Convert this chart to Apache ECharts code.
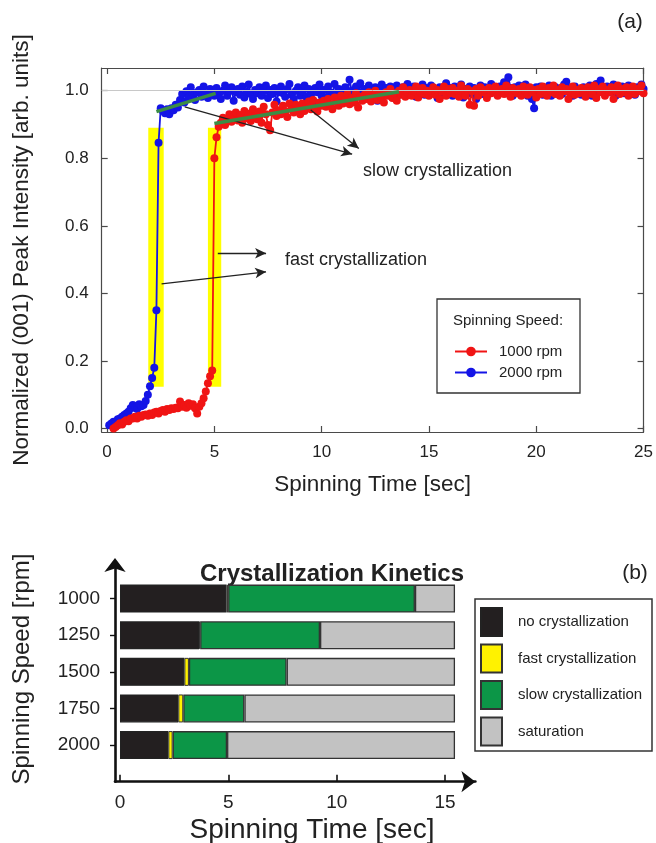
<!DOCTYPE html>
<html><head><meta charset="utf-8">
<script src="https://cdn.jsdelivr.net/npm/echarts@6/dist/echarts.min.js"></script>
<style>html,body{margin:0;padding:0;background:#fff}#c{width:656px;height:843px}</style>
</head><body><div id="c"></div>
<script>
// ---------- Panel (a) data ----------
const time = [
0.1,0.2,0.3,0.4,0.5,0.6,0.7,0.8,0.9,1.0,
1.1,1.2,1.3,1.4,1.5,1.6,1.7,1.8,1.9,2.0,
2.1,2.2,2.3,2.4,2.5,2.6,2.7,2.8,2.9,3.0,
3.1,3.2,3.3,3.4,3.5,3.6,3.7,3.8,3.9,4.0,
4.1,4.2,4.3,4.4,4.5,4.6,4.7,4.8,4.9,5.0,
5.1,5.2,5.3,5.4,5.5,5.6,5.7,5.8,5.9,6.0,
6.1,6.2,6.3,6.4,6.5,6.6,6.7,6.8,6.9,7.0,
7.1,7.2,7.3,7.4,7.5,7.6,7.7,7.8,7.9,8.0,
8.1,8.2,8.3,8.4,8.5,8.6,8.7,8.8,8.9,9.0,
9.1,9.2,9.3,9.4,9.5,9.6,9.7,9.8,9.9,10.0,
10.1,10.2,10.3,10.4,10.5,10.6,10.7,10.8,10.9,11.0,
11.1,11.2,11.3,11.4,11.5,11.6,11.7,11.8,11.9,12.0,
12.1,12.2,12.3,12.4,12.5,12.6,12.7,12.8,12.9,13.0,
13.1,13.2,13.3,13.4,13.5,13.6,13.7,13.8,13.9,14.0,
14.1,14.2,14.3,14.4,14.5,14.6,14.7,14.8,14.9,15.0,
15.1,15.2,15.3,15.4,15.5,15.6,15.7,15.8,15.9,16.0,
16.1,16.2,16.3,16.4,16.5,16.6,16.7,16.8,16.9,17.0,
17.1,17.2,17.3,17.4,17.5,17.6,17.7,17.8,17.9,18.0,
18.1,18.2,18.3,18.4,18.5,18.6,18.7,18.8,18.9,19.0,
19.1,19.2,19.3,19.4,19.5,19.6,19.7,19.8,19.9,20.0,
20.1,20.2,20.3,20.4,20.5,20.6,20.7,20.8,20.9,21.0,
21.1,21.2,21.3,21.4,21.5,21.6,21.7,21.8,21.9,22.0,
22.1,22.2,22.3,22.4,22.5,22.6,22.7,22.8,22.9,23.0,
23.1,23.2,23.3,23.4,23.5,23.6,23.7,23.8,23.9,24.0,
24.1,24.2,24.3,24.4,24.5,24.6,24.7,24.8,24.9,25.0
];
const rpm2000 = [
0.010,0.015,0.020,0.018,0.028,0.030,0.035,0.040,0.045,0.050,
0.060,0.070,0.062,0.058,0.072,0.066,0.070,0.082,0.100,0.125,
0.150,0.180,0.350,0.846,0.948,0.940,0.933,0.945,0.930,0.948,
0.942,0.958,0.950,0.972,0.990,0.965,0.998,0.980,1.010,0.988,
0.972,0.995,1.002,0.982,1.012,0.990,0.978,1.005,0.995,0.985,
1.008,0.992,0.975,1.000,1.015,0.985,0.998,1.010,0.970,0.995,
1.005,0.988,1.012,0.980,0.996,1.018,0.990,0.975,1.002,0.992,
1.010,0.985,0.998,1.015,0.978,1.002,0.990,1.008,0.968,0.995,
1.012,0.992,0.982,1.005,1.020,0.988,0.975,1.000,1.010,0.985,
0.998,1.015,0.980,1.005,0.992,0.970,1.008,0.995,1.018,0.985,
1.002,0.978,1.012,0.995,0.985,1.020,0.992,1.005,0.975,0.998,
1.010,0.988,1.032,1.000,0.982,1.012,0.995,1.022,0.978,1.005,
0.992,1.015,1.000,0.985,1.010,0.970,1.002,1.018,0.990,1.008,
0.995,1.012,0.980,1.002,1.015,0.988,0.998,1.010,0.985,1.020,
1.000,0.990,1.012,0.982,1.005,0.995,1.018,0.988,1.008,0.998,
1.015,0.992,1.005,0.978,1.010,1.000,0.988,1.022,0.995,1.008,
0.985,1.012,1.000,0.992,1.018,0.980,1.005,0.995,1.012,0.990,
1.008,0.975,1.002,1.015,0.990,1.010,0.985,1.000,1.020,0.995,
1.005,0.988,1.012,0.998,1.025,0.992,1.040,1.008,0.985,1.010,
0.995,1.015,0.990,1.005,1.018,0.985,1.000,0.975,0.948,1.010,
0.998,1.012,0.988,1.005,0.995,1.015,0.985,1.002,1.010,0.992,
1.005,0.990,1.018,1.026,0.998,1.008,0.985,1.012,0.995,1.002,
0.988,1.010,1.000,0.992,1.015,0.985,1.005,1.020,0.998,1.030,
1.008,0.990,1.012,0.995,1.002,1.018,0.985,1.005,0.998,1.012,
0.992,1.008,1.015,0.995,1.002,0.988,1.010,1.000,1.018,1.005
];
const rpm1000 = [
null,null,0.000,0.005,0.010,0.016,0.012,0.020,0.025,0.022,
0.030,0.030,0.035,0.030,0.038,0.035,0.040,0.042,0.038,0.045,
0.040,0.048,0.050,0.045,0.052,0.055,0.050,0.058,0.055,0.060,
0.058,0.062,0.060,0.080,0.065,0.070,0.062,0.075,0.068,0.072,
0.060,0.045,0.065,0.075,0.090,0.110,0.134,0.155,0.172,0.800,
0.862,0.893,0.905,0.920,0.898,0.915,0.930,0.908,0.922,0.935,
0.912,0.928,0.905,0.940,0.918,0.932,0.910,0.945,0.925,0.915,
0.938,0.905,0.952,0.930,0.898,0.883,0.935,0.958,0.925,0.942,
0.930,0.955,0.940,0.922,0.962,0.945,0.935,0.958,0.948,0.930,
0.962,0.940,0.955,0.968,0.945,0.972,0.950,0.938,0.965,0.955,
0.970,0.952,0.975,0.960,0.945,0.980,0.965,0.955,0.985,0.962,
0.975,0.990,0.960,0.978,0.965,0.992,0.950,0.982,0.970,0.988,
0.975,0.995,0.968,0.985,1.000,0.972,0.990,0.980,0.965,0.995,
0.985,1.005,0.978,0.992,0.970,1.000,0.988,1.010,0.982,0.995,
1.002,0.985,0.998,1.012,0.980,0.995,1.008,0.990,1.000,0.985,
0.995,1.010,0.988,1.002,0.975,0.998,1.012,0.985,1.005,0.992,
1.008,0.990,1.000,0.982,1.015,0.995,0.985,1.005,0.958,0.998,
0.955,1.005,0.985,1.010,0.995,1.002,0.978,1.008,0.992,1.000,
1.012,0.985,0.998,1.005,0.990,1.015,0.995,0.982,1.008,1.000,
0.992,1.005,0.985,1.012,0.998,0.988,1.010,0.995,1.002,0.980,
1.005,0.990,1.012,0.998,0.985,1.008,0.995,1.015,0.990,1.002,
0.985,1.010,0.998,1.005,0.975,0.995,1.012,0.988,1.002,0.992,
1.008,0.995,0.982,1.010,1.000,0.990,1.015,0.978,1.005,0.995,
1.012,0.985,1.002,0.995,1.010,0.975,1.000,1.015,0.990,1.005,
0.995,1.010,0.985,1.002,1.012,0.990,1.005,0.998,1.015,0.992
];
// slow-crystallization linear fits (green), [time, intensity]
const fit2000 = [[2.30, 0.938], [5.06, 0.992]];
const fit1000 = [[5.00, 0.903], [13.60, 0.997]];
// fast-crystallization highlight ranges (time) and their intensity span
const fastRange2000 = [1.92, 2.64];
const fastRange1000 = [4.70, 5.32];
const fastSpan = [0.124, 0.89];
const xTicksA = [0, 5, 10, 15, 20, 25];
const yTicksA = [0, 0.2, 0.4, 0.6, 0.8, 1.0];

// ---------- Panel (b) data ----------
const speeds = ['2000', '1750', '1500', '1250', '1000'];
const noCrystEnd = [2.23, 2.69, 2.97, 3.65, 4.92];
const fastEnd    = [2.43, 2.92, 3.18, 3.70, 4.99];
const slowEnd    = [4.94, 5.74, 7.69, 9.23, 13.61];
const satEnd     = [15.46, 15.46, 15.46, 15.46, 15.46];
const xTicksB = [0, 5, 10, 15];

// ---------- build ----------
const FF = '"Liberation Sans", Arial, Helvetica, sans-serif';
const pairs = (arr) => time.map((t, i) => [t, arr[i]]).filter(p => p[1] !== null);
const catB = [' '].concat(speeds, ['  ']);
const pad = (arr) => [null].concat(arr, [null]);
const dur = (a, b) => a.map((v, i) => +(v - (b ? b[i] : 0)).toFixed(3));

const axisColA = '#4a4a4a';
const chart = echarts.init(document.getElementById('c'), null, {renderer: 'canvas'});
const option = {
  animation: false,
  backgroundColor: '#fff',
  grid: [
    {left: 101.7, top: 68, width: 544.8, height: 364},
    {left: 115, top: 562, width: 360.4, height: 219.7}
  ],
  xAxis: [
    {gridIndex: 0, type: 'value', min: -0.25, max: 25, position: 'bottom',
     axisLine: {show: true, onZero: false, lineStyle: {color: axisColA, width: 1.2}},
     axisTick: {show: true, inside: true, length: 6, customValues: xTicksA, lineStyle: {color: axisColA, width: 1.2}},
     axisLabel: {customValues: xTicksA, margin: 12, fontSize: 17, color: '#222', fontFamily: FF},
     splitLine: {show: false},
     name: 'Spinning Time [sec]', nameLocation: 'middle', nameGap: 41,
     nameTextStyle: {fontSize: 22.5, color: '#222', fontFamily: FF}},
    {gridIndex: 0, type: 'value', min: -0.25, max: 25, position: 'top',
     axisLine: {show: true, onZero: false, lineStyle: {color: axisColA, width: 1.2}},
     axisTick: {show: true, inside: true, length: 6, customValues: xTicksA, lineStyle: {color: axisColA, width: 1.2}},
     axisLabel: {show: false}, splitLine: {show: false}},
    {gridIndex: 1, type: 'value', min: -0.23, max: 16.4, position: 'bottom',
     axisLine: {show: true, onZero: false, symbol: ['none', 'arrow'], symbolSize: [16, 14],
                lineStyle: {color: '#111', width: 2.6}},
     axisTick: {show: true, inside: true, length: 7, customValues: xTicksB, lineStyle: {color: '#111', width: 1.6}},
     axisLabel: {show: true, customValues: xTicksB, margin: 12, fontSize: 19, color: '#222', fontFamily: FF},
     splitLine: {show: false}}
  ],
  yAxis: [
    {gridIndex: 0, type: 'value', min: -0.01, max: 1.067, position: 'left',
     axisLine: {show: true, onZero: false, lineStyle: {color: axisColA, width: 1.2}},
     axisTick: {show: true, inside: true, length: 6, customValues: yTicksA, lineStyle: {color: axisColA, width: 1.2}},
     axisLabel: {customValues: yTicksA, margin: 13, fontSize: 17, color: '#222', fontFamily: FF,
                 formatter: v => v.toFixed(1)},
     splitLine: {show: false},
     name: 'Normalized (001) Peak Intensity [arb. units]', nameLocation: 'middle', nameGap: 68,
     nameTextStyle: {fontSize: 22.5, color: '#222', fontFamily: FF}},
    {gridIndex: 0, type: 'value', min: -0.01, max: 1.067, position: 'right',
     axisLine: {show: true, onZero: false, lineStyle: {color: axisColA, width: 1.2}},
     axisTick: {show: true, inside: true, length: 6, customValues: yTicksA, lineStyle: {color: axisColA, width: 1.2}},
     axisLabel: {show: false}, splitLine: {show: false}},
    {gridIndex: 1, type: 'category', data: catB, boundaryGap: false,
     axisLine: {show: true, onZero: false, symbol: ['none', 'arrow'], symbolSize: [16, 14], symbolOffset: [0, 4],
                lineStyle: {color: '#111', width: 2.6}},
     axisTick: {show: true, length: 5, interval: (i, v) => v.trim() !== '', lineStyle: {color: '#111', width: 1.4}},
     axisLabel: {interval: 0, margin: 15, fontSize: 19, color: '#222', fontFamily: FF},
     splitLine: {show: false}}
  ],
  legend: [
    {data: ['1000 rpm', '2000 rpm'], orient: 'vertical', left: 454, top: 344,
     itemWidth: 32, itemHeight: 12, itemGap: 6, padding: 0, selectedMode: false,
     textStyle: {fontSize: 15, color: '#222', fontFamily: FF, padding: [0, 0, 0, 7]}},
    {data: ['no crystallization', 'fast crystallization', 'slow crystallization', 'saturation'],
     orient: 'vertical', left: 480, top: 607, icon: 'rect',
     itemWidth: 21, itemHeight: 28, itemGap: 6.5, padding: 0, selectedMode: false,
     textStyle: {fontSize: 15, color: '#222', fontFamily: FF, padding: [0, 0, 0, 11]}}
  ],
  graphic: [
    {type: 'rect', shape: {x: 437, y: 299, width: 143, height: 94},
     style: {fill: 'none', stroke: '#333', lineWidth: 1.3}},
    {type: 'text', x: 508, y: 321, style: {text: 'Spinning Speed:', font: '15px ' + FF, fill: '#222',
     textAlign: 'center', textVerticalAlign: 'middle'}},
    {type: 'text', x: 363, y: 171, style: {text: 'slow crystallization', font: '18px ' + FF, fill: '#222',
     textAlign: 'left', textVerticalAlign: 'middle'}},
    {type: 'text', x: 285, y: 260, style: {text: 'fast crystallization', font: '18px ' + FF, fill: '#222',
     textAlign: 'left', textVerticalAlign: 'middle'}},
    {type: 'text', x: 630, y: 22, style: {text: '(a)', font: '21px ' + FF, fill: '#222',
     textAlign: 'center', textVerticalAlign: 'middle'}},
    {type: 'text', x: 635, y: 573, style: {text: '(b)', font: '21px ' + FF, fill: '#222',
     textAlign: 'center', textVerticalAlign: 'middle'}},
    {type: 'text', x: 332, y: 574, style: {text: 'Crystallization Kinetics', font: 'bold 24px ' + FF, fill: '#222',
     textAlign: 'center', textVerticalAlign: 'middle'}},
    {type: 'text', x: 312, y: 830, style: {text: 'Spinning Time [sec]', font: '28px ' + FF, fill: '#222',
     textAlign: 'center', textVerticalAlign: 'middle'}},
    {type: 'text', x: 22, y: 669, rotation: Math.PI / 2, style: {text: 'Spinning Speed [rpm]', font: '24px ' + FF, fill: '#222',
     textAlign: 'center', textVerticalAlign: 'middle'}},
    {type: 'rect', shape: {x: 475, y: 599, width: 177, height: 152},
     style: {fill: 'none', stroke: '#333', lineWidth: 1.5}}
  ],
  series: [
    {name: 'fastAreas', type: 'line', xAxisIndex: 0, yAxisIndex: 0, data: [], z: 1, silent: true,
     markArea: {silent: true, itemStyle: {color: '#ffff00'},
       data: [
         [{coord: [fastRange2000[0], fastSpan[1]]}, {coord: [fastRange2000[1], fastSpan[0]]}],
         [{coord: [fastRange1000[0], fastSpan[1]]}, {coord: [fastRange1000[1], fastSpan[0]]}]
       ]},
     markLine: {silent: true, symbol: 'none', label: {show: false},
       lineStyle: {color: '#c8c8c8', width: 1, type: 'solid'}, data: [{yAxis: 1.0}]}},
    {name: '2000 rpm', type: 'line', xAxisIndex: 0, yAxisIndex: 0, data: pairs(rpm2000), z: 3,
     symbol: 'circle', symbolSize: 8, color: '#1414e6',
     lineStyle: {width: 1.8, color: '#1414e6'}, itemStyle: {color: '#1414e6'}},
    {name: '1000 rpm', type: 'line', xAxisIndex: 0, yAxisIndex: 0, data: pairs(rpm1000), z: 4,
     symbol: 'circle', symbolSize: 8, color: '#f01414',
     lineStyle: {width: 1.8, color: '#f01414'}, itemStyle: {color: '#f01414'}},
    {name: 'fit2000', type: 'line', xAxisIndex: 0, yAxisIndex: 0, data: fit2000, z: 5, symbol: 'none',
     lineStyle: {width: 3.5, color: '#3b8c45'}, silent: true},
    {name: 'fit1000', type: 'line', xAxisIndex: 0, yAxisIndex: 0, data: fit1000, z: 5, symbol: 'none',
     lineStyle: {width: 3.5, color: '#3b8c45'}, silent: true},
    {name: 'arrows', type: 'line', xAxisIndex: 0, yAxisIndex: 0, data: [], z: 6, silent: true,
     markLine: {silent: true, symbol: ['none', 'arrow'], symbolSize: [8, 11], label: {show: false},
       lineStyle: {color: '#222', width: 1.3, type: 'solid'},
       data: [
         [{coord: [3.62, 0.952]}, {coord: [11.42, 0.812]}],
         [{coord: [9.49, 0.943]}, {coord: [11.73, 0.829]}],
         [{coord: [5.16, 0.519]}, {coord: [7.41, 0.519]}],
         [{coord: [2.54, 0.428]}, {coord: [7.41, 0.464]}]
       ]}},
    {name: 'no crystallization', type: 'bar', stack: 'k', xAxisIndex: 2, yAxisIndex: 2, barWidth: 28,
     data: pad(dur(noCrystEnd)), itemStyle: {color: '#231f20', borderColor: '#222', borderWidth: 1.3}},
    {name: 'fast crystallization', type: 'bar', stack: 'k', xAxisIndex: 2, yAxisIndex: 2, barWidth: 28,
     data: pad(dur(fastEnd, noCrystEnd)), itemStyle: {color: '#fff200', borderColor: '#333', borderWidth: 1}},
    {name: 'slow crystallization', type: 'bar', stack: 'k', xAxisIndex: 2, yAxisIndex: 2, barWidth: 28,
     data: pad(dur(slowEnd, fastEnd)), itemStyle: {color: '#0c9647', borderColor: '#333', borderWidth: 1.3}},
    {name: 'saturation', type: 'bar', stack: 'k', xAxisIndex: 2, yAxisIndex: 2, barWidth: 28,
     data: pad(dur(satEnd, slowEnd)), itemStyle: {color: '#c2c2c2', borderColor: '#333', borderWidth: 1.3}}
  ]
};
chart.setOption(option);
</script></body></html>
